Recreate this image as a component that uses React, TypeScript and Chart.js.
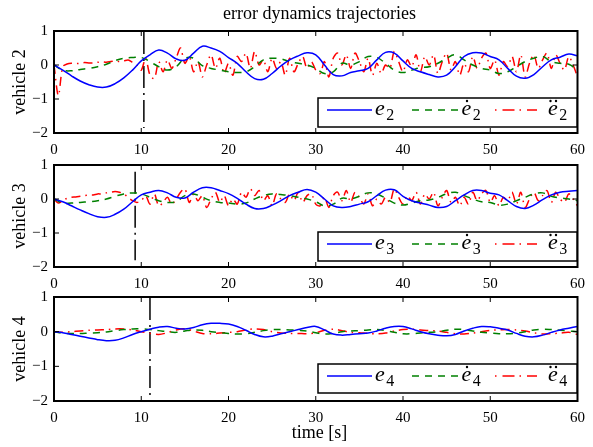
import React, { useEffect, useRef } from "react";
import { Chart, registerables } from "chart.js";
Chart.register(...registerables);

// ---------------- data ----------------
const X_TICKS = [0, 10, 20, 30, 40, 50, 60];
const Y_TICKS = [-2, -1, 0, 1];
const VEHICLES = ["vehicle 2", "vehicle 3", "vehicle 4"];
const SUBS = ["2", "3", "4"];
const TITLE = "error dynamics trajectories";
const XLABEL = "time [s]";

const E_STEP = 1; // seconds between samples of e and e-dot
const RED_STEP = [0.5, 0.5, 1]; // seconds between samples of e-ddot

const E2 = [0, -0.15, -0.32, -0.47, -0.58, -0.65, -0.65, -0.55, -0.38, -0.15, 0.12, 0.3, 0.44, 0.35, 0.18, 0.14, 0.35, 0.55, 0.5, 0.4, 0.22, 0.05, -0.2, -0.4, -0.42, -0.25, -0.03, 0.15, 0.27, 0.36, 0.3, 0.0, -0.28, -0.32, -0.22, -0.17, -0.1, 0.15, 0.37, 0.35, 0.12, -0.1, -0.2, -0.28, -0.35, -0.3, -0.05, 0.25, 0.36, 0.35, 0.25, 0.15, -0.1, -0.33, -0.39, -0.28, -0.05, 0.15, 0.23, 0.32, 0.27];
const DE2 = [0, -0.15, -0.17, -0.13, -0.1, -0.05, 0.02, 0.13, 0.2, 0.22, 0.22, 0.1, -0.05, -0.15, -0.05, 0.2, 0.2, -0.02, -0.1, -0.15, -0.2, -0.22, -0.2, -0.05, 0.15, 0.2, 0.18, 0.1, 0.05, 0.0, -0.1, -0.25, -0.2, 0.05, 0.0, 0.1, 0.25, 0.22, 0.05, -0.15, -0.22, -0.15, -0.08, -0.05, 0.05, 0.2, 0.3, 0.15, 0.0, -0.1, -0.15, -0.25, -0.2, -0.05, 0.1, 0.2, 0.25, 0.1, 0.05, 0.02, -0.15];
const DDE2 = [0, -0.9, -0.05, 0.03, 0.05, 0.04, 0.05, 0.07, 0.06, 0.06, 0.08, 0.09, 0.08, 0.1, 0.12, 0.1, 0.12, 0.15, 0.08, 0.0, -0.15,
  0.2, -0.3, -0.4, 0.1, -0.2, 0.15, -0.1, 0.2, 0.5, 0.05, 0.25, -0.2, 0.1, -0.35, 0.0, 0.3, -0.1, 0.2, -0.25, 0.05,
  -0.3, 0.25, 0.1, 0.35, -0.1, 0.4, 0.0, 0.15, -0.2, 0.2, -0.1, 0.1, -0.3, 0.2, -0.2, 0.05, 0.25, -0.1, 0.1, -0.15,
  -0.25, 0.1, -0.35, 0.2, 0.35, 0.0, 0.3, -0.1, 0.35, 0.1, -0.2, 0.2, -0.3, 0.05, -0.25, 0.0, -0.1, 0.4, 0.1, -0.2,
  0.15, -0.05, 0.3, -0.2, 0.25, 0.0, 0.3, -0.25, 0.1, 0.35, -0.15, 0.1, -0.3, 0.05, -0.2, 0.25, -0.1, 0.2, 0.35, -0.1,
  0.15, -0.3, 0.1, -0.05, 0.25, -0.2, 0.3, -0.35, 0.05, 0.3, -0.1, 0.15, 0.35, -0.1, 0.3, 0.05, -0.15, 0.25, 0.0, -0.35];

const E3 = [0, -0.08, -0.2, -0.32, -0.43, -0.52, -0.54, -0.45, -0.3, -0.08, 0.12, 0.2, 0.25, 0.18, 0.05, 0.03, 0.2, 0.33, 0.33, 0.25, 0.16, 0.02, -0.15, -0.28, -0.28, -0.18, -0.05, 0.1, 0.2, 0.28, 0.2, 0.0, -0.2, -0.25, -0.22, -0.15, -0.08, 0.1, 0.26, 0.27, 0.08, -0.05, -0.12, -0.18, -0.25, -0.22, -0.05, 0.12, 0.25, 0.25, 0.17, 0.12, -0.05, -0.22, -0.28, -0.18, -0.02, 0.12, 0.2, 0.23, 0.25];
const DE3 = [0, -0.12, -0.12, -0.1, -0.08, -0.05, 0.0, 0.08, 0.15, 0.18, 0.15, 0.05, -0.05, -0.1, -0.08, 0.1, 0.15, 0.05, -0.05, -0.1, -0.12, -0.15, -0.12, 0.0, 0.1, 0.15, 0.13, 0.1, 0.05, 0.0, -0.08, -0.2, -0.15, 0.02, 0.0, 0.08, 0.18, 0.15, 0.02, -0.12, -0.18, -0.12, -0.05, -0.03, 0.05, 0.15, 0.2, 0.1, 0.0, -0.08, -0.1, -0.18, -0.15, -0.05, 0.05, 0.15, 0.18, 0.08, 0.03, 0.0, -0.05];
const DDE3 = [0, -0.12, -0.05, 0.02, 0.05, 0.06, 0.08, 0.1, 0.12, 0.12, 0.15, 0.15, 0.18, 0.2, 0.22, 0.2, 0.15, 0.05, -0.05, -0.1, -0.05,
  0.1, -0.15, 0.15, -0.2, -0.1, 0.05, -0.15, 0.0, 0.2, 0.3, -0.1, 0.15, -0.05, 0.1, -0.25, 0.0, 0.2, -0.1, 0.1, -0.2,
  0.0, -0.15, 0.2, 0.05, 0.3, 0.1, 0.25, -0.05, 0.1, -0.2, 0.15, 0.0, -0.1, 0.15, -0.05, 0.2, -0.1, 0.1, 0.15, -0.15,
  -0.2, 0.05, -0.25, 0.1, 0.2, -0.05, 0.25, -0.1, 0.2, 0.05, -0.15, 0.15, -0.2, 0.0, -0.15, 0.05, -0.1, 0.3, 0.05, -0.15,
  0.1, -0.05, 0.2, -0.15, 0.15, 0.0, 0.2, -0.2, 0.05, 0.25, -0.1, 0.05, -0.2, 0.05, -0.15, 0.2, -0.05, 0.15, 0.25, -0.1,
  0.1, -0.2, 0.05, -0.05, 0.2, -0.15, 0.2, -0.25, 0.0, 0.2, -0.05, 0.1, 0.25, -0.1, 0.2, 0.0, -0.1, 0.15, 0.0, -0.2];

const E4 = [0, -0.03, -0.08, -0.13, -0.18, -0.23, -0.26, -0.25, -0.18, -0.08, 0.0, 0.07, 0.13, 0.15, 0.1, 0.08, 0.12, 0.2, 0.24, 0.24, 0.22, 0.15, 0.04, -0.08, -0.15, -0.13, -0.06, 0.0, 0.06, 0.12, 0.15, 0.05, -0.07, -0.1, -0.08, -0.06, -0.04, 0.02, 0.1, 0.15, 0.15, 0.08, 0.0, -0.06, -0.1, -0.12, -0.08, 0.02, 0.1, 0.15, 0.14, 0.1, 0.05, -0.05, -0.13, -0.15, -0.1, -0.02, 0.05, 0.1, 0.15];
const DE4 = [0, -0.05, -0.05, -0.05, -0.04, -0.03, -0.01, 0.03, 0.06, 0.08, 0.08, 0.06, 0.03, 0.0, -0.02, 0.02, 0.05, 0.04, 0.0, -0.03, -0.05, -0.07, -0.06, -0.02, 0.03, 0.06, 0.06, 0.05, 0.04, 0.02, -0.03, -0.07, -0.05, 0.0, 0.02, 0.03, 0.05, 0.06, 0.03, -0.02, -0.06, -0.06, -0.04, -0.02, 0.0, 0.04, 0.07, 0.06, 0.02, -0.02, -0.04, -0.06, -0.06, -0.04, 0.0, 0.05, 0.07, 0.06, 0.04, 0.02, 0.0];
const DDE4 = [0, -0.02, 0.0, 0.02, 0.04, 0.05, 0.06, 0.08, 0.08, 0.05, 0.0, -0.05, -0.08, -0.03, 0.05, 0.08, 0.02, -0.05, -0.06, -0.04, -0.02, 0.0, 0.05, 0.08, 0.06, 0.0, -0.04, -0.05, -0.05, -0.06, -0.03, 0.04, 0.07, 0.03, -0.02, -0.03, -0.05, -0.06, -0.04, 0.02, 0.06, 0.07, 0.05, 0.03, 0.02, -0.02, -0.06, -0.07, -0.04, 0.0, 0.04, 0.05, 0.06, 0.05, 0.02, -0.03, -0.07, -0.06, -0.04, -0.02, -0.08];

const E_SERIES = [E2, E3, E4];
const DE_SERIES = [DE2, DE3, DE4];
const DDE_SERIES = [DDE2, DDE3, DDE4];
const SWITCH_T = [10.3, 9.3, 11.0];
const SWITCH_TOP = [0.97, 0.8, 0.97];
const SWITCH_BOTTOM = [-1.85, -1.8, -1.88];

// ---------------- style / layout ----------------
const W = 593;
const H = 447;
const PLOT_TOP = [31, 165, 297];
const PLOT_BOTTOM = [133, 267, 401];
const XAXIS_H = 25;
const BLUE = "#0000ff";
const GREEN = "#008000";
const RED = "#ff0000";
const FONT = '"Liberation Serif", "Times New Roman", serif';

const toPts = (arr: number[], step: number) => arr.map((v, i) => ({ x: i * step, y: v }));

function framePlugin(idx: number) {
  return {
    id: "frame" + idx,
    afterDatasetsDraw(chart: any) {
      const { ctx, chartArea: a, scales } = chart;
      const xs = scales.x;
      const ys = scales.y;
      ctx.save();
      ctx.setLineDash([]);
      ctx.strokeStyle = "#000";
      ctx.lineWidth = 1;
      ctx.beginPath();
      for (const v of X_TICKS) {
        const px = xs.getPixelForValue(v);
        ctx.moveTo(px, a.bottom);
        ctx.lineTo(px, a.bottom - 5);
        ctx.moveTo(px, a.top);
        ctx.lineTo(px, a.top + 5);
      }
      for (const v of Y_TICKS) {
        const py = ys.getPixelForValue(v);
        ctx.moveTo(a.left, py);
        ctx.lineTo(a.left + 5, py);
        ctx.moveTo(a.right, py);
        ctx.lineTo(a.right - 5, py);
      }
      ctx.stroke();
      ctx.lineWidth = 2;
      ctx.strokeRect(a.left, a.top, a.right - a.left, a.bottom - a.top);

      // legend
      const T = a.top;
      const bx = 318, by = T + 67, bw = 259, bh = 29;
      ctx.fillStyle = "#fff";
      ctx.fillRect(bx, by, bw, bh);
      ctx.lineWidth = 1.5;
      ctx.strokeStyle = "#000";
      ctx.strokeRect(bx, by, bw, bh);
      const ly = T + 79;
      const sample = (x1: number, x2: number, color: string, dash: number[]) => {
        ctx.strokeStyle = color;
        ctx.lineWidth = 1.5;
        ctx.setLineDash(dash);
        ctx.beginPath();
        ctx.moveTo(x1, ly);
        ctx.lineTo(x2, ly);
        ctx.stroke();
      };
      sample(327, 372, BLUE, []);
      sample(412, 458, GREEN, [7, 6]);
      sample(495, 537, RED, [1.5, 6, 12, 5]);
      ctx.setLineDash([]);
      ctx.fillStyle = "#000";
      ctx.textAlign = "left";
      ctx.textBaseline = "alphabetic";
      const sym = (x: number, dots: number[]) => {
        ctx.font = "italic 22px " + FONT;
        ctx.fillText("e", x, T + 84);
        const w = ctx.measureText("e").width;
        ctx.font = "16px " + FONT;
        ctx.fillText(SUBS[idx], x + w + 1.5, T + 89);
        for (const d of dots) {
          ctx.beginPath();
          ctx.arc(x + d, T + 70, 1.2, 0, Math.PI * 2);
          ctx.fill();
        }
      };
      sym(375, []);
      sym(461.5, [5.5]);
      sym(548, [2.5, 8]);
      ctx.restore();
    },
  };
}

function Panel({ idx }: { idx: number }) {
  const ref = useRef<HTMLCanvasElement | null>(null);
  useEffect(() => {
    if (!ref.current) return;
    const chart = new Chart(ref.current, {
      type: "line",
      data: {
        datasets: [
          {
            data: toPts(E_SERIES[idx], E_STEP),
            borderColor: BLUE,
            borderWidth: 1.5,
            pointRadius: 0,
            tension: 0.4,
            fill: false,
          },
          {
            data: toPts(DE_SERIES[idx], E_STEP),
            borderColor: GREEN,
            borderWidth: 1.5,
            borderDash: [7, 6],
            pointRadius: 0,
            tension: 0.4,
            fill: false,
          },
          {
            data: toPts(DDE_SERIES[idx], RED_STEP[idx]),
            borderColor: RED,
            borderWidth: 1.5,
            borderDash: [9, 5, 1.5, 5],
            pointRadius: 0,
            tension: 0.3,
            fill: false,
          },
          {
            data: [
              { x: SWITCH_T[idx], y: SWITCH_TOP[idx] },
              { x: SWITCH_T[idx], y: SWITCH_BOTTOM[idx] },
            ],
            borderColor: "#000",
            borderWidth: 1.5,
            borderDash: [22, 5, 2, 5],
            pointRadius: 0,
            fill: false,
          },
        ],
      } as any,
      options: {
        animation: false,
        responsive: false,
        events: [],
        layout: {
          padding: {
            left: 0,
            right: W - 585,
            top: PLOT_TOP[idx],
            bottom: H - PLOT_BOTTOM[idx] - XAXIS_H,
          },
        },
        plugins: {
          legend: { display: false },
          tooltip: { enabled: false },
          title: { display: false },
        },
        scales: {
          x: {
            type: "linear",
            min: 0,
            max: 60,
            ticks: {
              stepSize: 10,
              color: "#000",
              font: { family: FONT, size: 15 },
              padding: 8,
              maxRotation: 0,
              autoSkip: false,
            },
            grid: { display: false, drawTicks: false },
            border: { display: false },
            afterFit: (s: any) => {
              s.height = XAXIS_H;
            },
          },
          y: {
            type: "linear",
            min: -2,
            max: 1,
            ticks: {
              stepSize: 1,
              color: "#000",
              font: { family: FONT, size: 15 },
              padding: 6,
              callback: (v: any) => (Number(v) < 0 ? "\u2212" + Math.abs(Number(v)) : String(v)),
            },
            grid: { display: false, drawTicks: false },
            border: { display: false },
            title: {
              display: true,
              text: VEHICLES[idx],
              color: "#000",
              font: { family: FONT, size: 18 },
              padding: { top: 9, bottom: 0 },
            },
            afterFit: (s: any) => {
              s.width = 54;
            },
          },
        },
      } as any,
      plugins: [framePlugin(idx)],
    });
    return () => chart.destroy();
  }, [idx]);
  return (
    <canvas
      ref={ref}
      width={W}
      height={H}
      style={{ position: "absolute", left: 0, top: 0, width: W, height: H, display: "block" }}
    />
  );
}

export default function App() {
  return (
    <div
      style={{
        position: "fixed",
        left: 0,
        top: 0,
        width: W,
        height: H,
        background: "#fff",
        overflow: "hidden",
        fontFamily: FONT,
      }}
    >
      <Panel idx={0} />
      <Panel idx={1} />
      <Panel idx={2} />
      <div
        style={{
          position: "absolute",
          left: 54,
          width: 531,
          top: 2,
          lineHeight: "22px",
          fontSize: 18,
          textAlign: "center",
          color: "#000",
        }}
      >
        {TITLE}
      </div>
      <div
        style={{
          position: "absolute",
          left: 54,
          width: 531,
          top: 421,
          lineHeight: "22px",
          fontSize: 18,
          textAlign: "center",
          color: "#000",
        }}
      >
        {XLABEL}
      </div>
    </div>
  );
}
